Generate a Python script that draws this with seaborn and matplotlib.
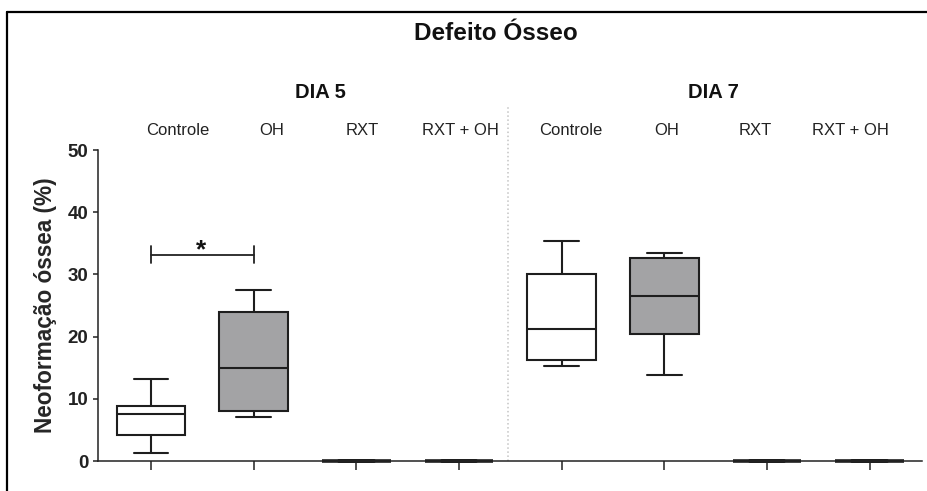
import matplotlib
matplotlib.use("Agg")
import matplotlib.pyplot as plt
from matplotlib.lines import Line2D
import numpy as np
import pandas as pd
import seaborn as sns

# Categorias do gráfico
tratamentos = ['Controle', 'OH', 'RXT', 'RXT + OH']
dias = ['DIA 5', 'DIA 7']

# Valores (mín, Q1, mediana, Q3, máx) em %
dia5_controle = [1.3, 4.1, 7.5, 8.9, 13.2]
dia5_oh = [7.1, 8.0, 15.0, 24.0, 27.5]
dia5_rxt = [0.0, 0.0, 0.0, 0.0, 0.0]
dia5_rxt_oh = [0.0, 0.0, 0.0, 0.0, 0.0]
dia7_controle = [15.3, 16.2, 21.2, 30.1, 35.3]
dia7_oh = [13.8, 20.4, 26.6, 32.6, 33.4]
dia7_rxt = [0.0, 0.0, 0.0, 0.0, 0.0]
dia7_rxt_oh = [0.0, 0.0, 0.0, 0.0, 0.0]

# Comparação significativa (Controle x OH no dia 5)
sig_y = 33.1
sig_label = '*'

valores = {
    'DIA 5': [dia5_controle, dia5_oh, dia5_rxt, dia5_rxt_oh],
    'DIA 7': [dia7_controle, dia7_oh, dia7_rxt, dia7_rxt_oh],
}

linhas = []
for dia in dias:
    for trat, vals in zip(tratamentos, valores[dia]):
        for v in vals:
            linhas.append({'grupo': f'{dia} {trat}', 'tratamento': trat, 'valor': v})
df = pd.DataFrame(linhas)
ordem = [f'{d} {t}' for d in dias for t in tratamentos]

cores = {'Controle': 'white', 'OH': '#a2a2a6', 'RXT': 'white', 'RXT + OH': 'white'}

sns.set_style('ticks')
plt.rcParams['font.family'] = ['Liberation Sans', 'DejaVu Sans']

fig = plt.figure(figsize=(9.27, 4.91), dpi=100)
ax = fig.add_axes([98 / 927, 30 / 491, 824 / 927, 311 / 491])

sns.boxplot(data=df, x='grupo', y='valor', hue='tratamento', order=ordem,
            palette=cores, dodge=False, whis=(0, 100), width=0.67,
            linecolor='#1e1e1e', linewidth=1.5, showfliers=False,
            legend=False, ax=ax)

for art in ax.lines + ax.patches:
    art.set_clip_on(False)

# caixas com valores todos zero aparecem como traço grosso
for art in ax.lines:
    yd = np.asarray(art.get_ydata(), dtype=float)
    if yd.size and np.allclose(yd, 0):
        art.set_linewidth(2.6)

ax.set_xlim(-0.516, 7.51)
ax.set_ylim(0, 50)
ax.set_yticks(np.arange(0, 51, 10))
ax.set_xlabel('')
ax.set_ylabel('Neoformação óssea (%)', fontsize=16.3, fontweight='bold')
ax.yaxis.set_label_coords(-0.05, 0.5)

for lado in ['top', 'right']:
    ax.spines[lado].set_visible(False)
for lado in ['left', 'bottom']:
    ax.spines[lado].set_linewidth(1.1)
    ax.spines[lado].set_color('#222222')

ax.tick_params(axis='y', length=3.6, width=1.1, pad=3.5, labelsize=13.5, colors='#222222')
ax.tick_params(axis='x', length=6.5, width=1.1, labelbottom=False, colors='#222222')
for lab in ax.get_yticklabels():
    lab.set_fontweight('bold')

# Rótulos das categorias acima do gráfico
pos_rotulos = [0.26, 1.18, 2.06, 3.01, 4.09, 5.02, 5.89, 6.81]
trans = ax.get_xaxis_transform()
for xp, nome in zip(pos_rotulos, tratamentos * 2):
    ax.text(xp, 1.064, nome, transform=trans, ha='center', va='center',
            fontsize=12, color='#222222')

for xp, dia in zip([1.65, 5.48], dias):
    ax.text(xp, 1.186, dia, transform=trans, ha='center', va='center',
            fontsize=14.5, fontweight='bold', color='#111111')

# Separador entre os dias
ax.axvline(3.48, ymin=0, ymax=1.138, clip_on=False, ls=':', color='#c4c4c4', lw=1.1)

# Barra de significância
ax.plot([0, 1], [sig_y, sig_y], color='#222222', lw=1.3, clip_on=False)
for xp in [0, 1]:
    ax.plot([xp, xp], [sig_y - 1.3, sig_y + 1.5], color='#222222', lw=1.3)
ax.text(0.49, sig_y - 0.3, sig_label, ha='center', va='baseline',
        fontsize=19, fontweight='bold', color='#111111')

fig.text(496 / 927, 1 - 33 / 491, 'Defeito Ósseo', ha='center', va='center',
         fontsize=17.5, fontweight='bold', color='#111111')

# Moldura (esquerda e topo)
fig.add_artist(Line2D([7 / 927, 7 / 927], [0, 1 - 12 / 491], color='black', lw=1.6))
fig.add_artist(Line2D([7 / 927, 1], [1 - 12 / 491, 1 - 12 / 491], color='black', lw=1.6))

fig.savefig('out.png', dpi=100)
